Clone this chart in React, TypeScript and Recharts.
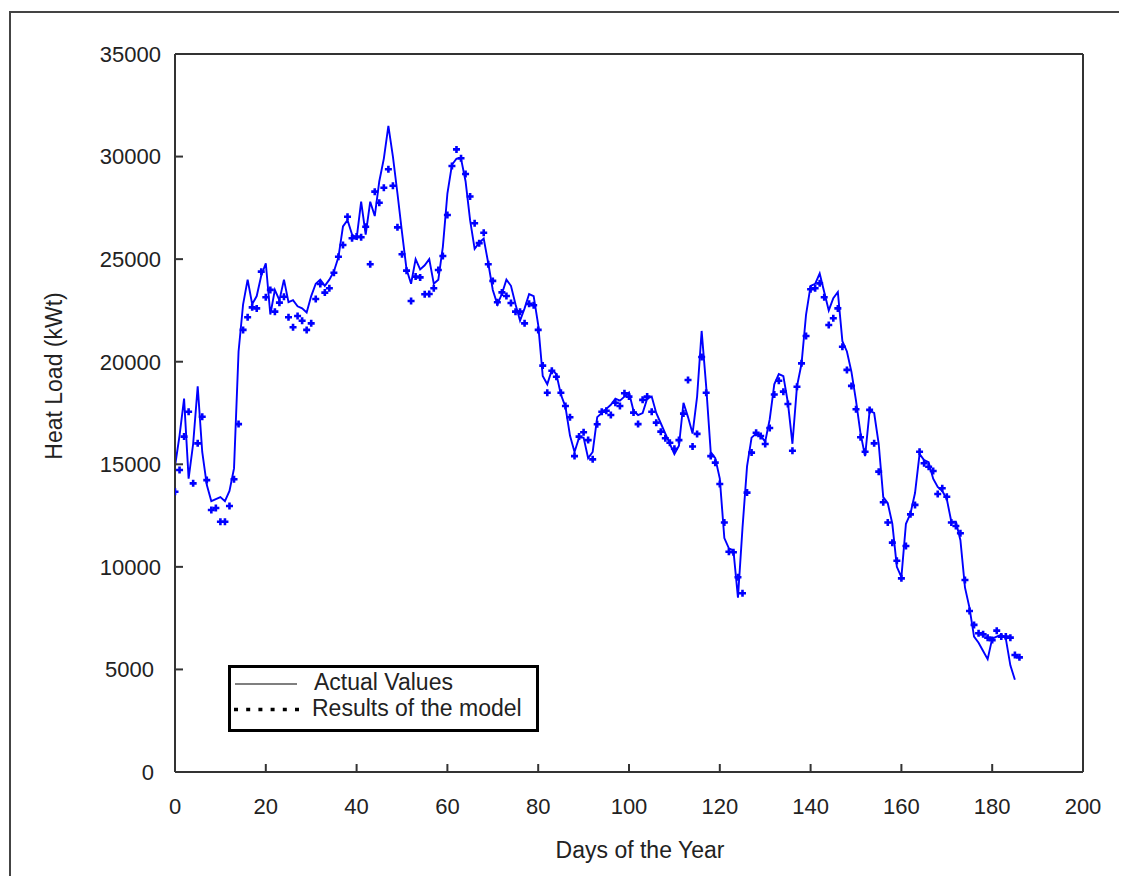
import React from 'react';
import { LineChart, Line, XAxis, YAxis, Legend } from 'recharts';

// Heat load per day (kWt)
const actualValues = [
  14900, 16400, 18200, 14300, 16000, 18800, 15600, 14000, 13200, 13300,
  13400, 13200, 13700, 14800, 20500, 22800, 24000, 22800, 23200, 24200,
  24800, 22300, 23500, 23000, 24000, 22900, 23000, 22700, 22600, 22400,
  23200, 23800, 24000, 23700, 24000, 24400, 25100, 26600, 26900, 26200,
  26000, 27800, 26200, 27800, 27100, 28800, 29900, 31500, 30000, 28200,
  26300, 24500, 23800, 25000, 24500, 24700, 25000, 23800, 24000, 25600,
  28200, 29600, 29900, 29900, 28800, 26900, 25500, 25800, 26000, 24800,
  23500, 22800, 23300, 24000, 23700, 22800, 22000, 22600, 23300, 23200,
  21800, 19300, 18900, 19600, 19400, 18400, 17800, 16400, 15600, 16300,
  16300, 15300, 15600, 17300, 17500, 17700, 17900, 18200, 18100, 18300,
  18500, 17600, 17400, 17500, 18200, 18300, 17500, 17000, 16500, 16000,
  15500, 15900, 18000, 17300, 16500, 18300, 21500, 18800, 15600, 15300,
  14300, 11400, 10900, 10800, 8500, 11900, 14900, 16300, 16500, 16400,
  16100, 17200, 18900, 19400, 19300, 18000, 16000, 18800, 19900, 22300,
  23700, 23800, 24300, 23400, 22500, 23100, 23400, 21000, 20500, 19500,
  18100, 16500, 15400, 17600, 17500, 16000, 13400, 13100, 12100, 10000,
  9500, 12100, 12600, 13600, 15500, 15200, 15100, 14300, 13900, 13700,
  13300, 12200, 12200, 11300, 9000, 8000, 6600, 6300, 5900, 5500,
  6500, 6600, 6700, 6500, 5200, 4500,
];

const modelValues = [
  13660, 14720, 16350, 17560, 14070, 16020, 17320, 14230, 12770, 12870,
  12200, 12200, 12970, 14270, 16960, 21550, 22170, 22650, 22600, 24390,
  23140, 23500, 22440, 22880, 23170, 22170, 21680, 22230, 22000, 21550,
  21870, 23060, 23790, 23370, 23580, 24340, 25120, 25690, 27070, 26020,
  26100, 26070, 26580, 24750, 28290, 27750, 28480, 29380, 28580, 26550,
  25240, 24440, 22960, 24150, 24110, 23290, 23300, 23580, 24470, 25150,
  27150, 29540, 30350, 29920, 29150, 28050, 26750, 25780, 26290, 24750,
  23940, 22900, 23380, 23200, 22860, 22440, 22440, 21870, 22820, 22750,
  21550, 19810, 18490, 19560, 19270, 18490, 17840, 17290, 15400, 16350,
  16560, 16180, 15240, 16950, 17560, 17610, 17400, 18000, 17840, 18460,
  18300, 17520, 16960, 18140, 18300, 17560, 17030, 16590, 16270, 16050,
  15760, 16180, 17470, 19110, 15870, 16480, 20230, 18490, 15400, 15080,
  14040, 12160, 10740, 10710, 9490, 8710, 13620, 15570, 16540, 16380,
  15990, 16770, 18400, 19070, 18540, 17940, 15660, 18780, 19920, 21250,
  23530, 23580, 23820, 23140, 21790, 22120, 22600, 20730, 19600, 18820,
  17680, 16320, 15610, 17650, 16020, 14640, 13150, 12160, 11180, 10300,
  9440, 11020, 12560, 13020, 15610, 15050, 14880, 14670, 13550, 13830,
  13420, 12160, 11990, 11640, 9360, 7850, 7170, 6760, 6710, 6550,
  6430, 6890, 6600, 6600, 6550, 5700, 5590,
];

const xTicks = [0, 20, 40, 60, 80, 100, 120, 140, 160, 180, 200];
const yTicks = [0, 5000, 10000, 15000, 20000, 25000, 30000, 35000];

const data = modelValues.map((m, i) => ({
  day: i,
  model: m,
  actual: i < actualValues.length ? actualValues[i] : null,
}));

const FONT = "'Liberation Sans', Arial, sans-serif";
const TEXT = '#222';
const AXIS = '#333';
const BLUE = '#0000ff';

const PlusDot = (props: any) => {
  const { cx, cy, index } = props;
  if (cx == null || cy == null || isNaN(cx) || isNaN(cy)) return <g key={`m${index}`} />;
  const a = 3.5;
  const t = 1.3;
  return (
    <path
      key={`m${index}`}
      d={`M${cx - a},${cy - t}h${2 * a}v${2 * t}h${-2 * a}zM${cx - t},${cy - a}h${2 * t}v${2 * a}h${-2 * t}z`}
      fill={BLUE}
    />
  );
};

const YTick = (props: any) => {
  const { x, y, payload } = props;
  const s = String(payload.value);
  return (
    <text
      x={x + (s.length >= 5 ? 7 : 0)}
      y={y}
      dy="0.355em"
      textAnchor="end"
      fill={TEXT}
      fontSize={22}
      fontFamily={FONT}
    >
      {s}
    </text>
  );
};

const XLabel = (props: any) => {
  const { viewBox } = props;
  const { x, y, width, height } = viewBox;
  return (
    <text x={x + width / 2 + 11} y={y + height + 26} textAnchor="middle" fill={TEXT} fontSize={23} fontFamily={FONT}>
      Days of the Year
    </text>
  );
};

const YLabel = (props: any) => {
  const { viewBox } = props;
  const { x, y, width, height } = viewBox;
  const cx = x + width - 121;
  const cy = y + height / 2 - 37;
  return (
    <text
      x={cx}
      y={cy}
      transform={`rotate(-90, ${cx}, ${cy})`}
      textAnchor="middle"
      dominantBaseline="central"
      fill={TEXT}
      fontSize={23}
      fontFamily={FONT}
    >
      Heat Load (kWt)
    </text>
  );
};

const LegendBox = () => (
  <svg width={311} height={67} style={{ display: 'block' }}>
    <rect x={1.5} y={1.5} width={308} height={64} fill="#fff" stroke="#000" strokeWidth={3} />
    <line x1={7} y1={19} x2={69} y2={19} stroke="#000" strokeWidth={1.2} />
    <line x1={6} y1={44.5} x2={74} y2={44.5} stroke="#000" strokeWidth={3.5} strokeDasharray="4 8.2" />
    <text x={86} y={25} fill={TEXT} fontSize={23} fontFamily={FONT}>Actual Values</text>
    <text x={84} y={51} fill={TEXT} fontSize={23} fontFamily={FONT}>Results of the model</text>
  </svg>
);

export default function App() {
  const W = 1111;
  const H = 868;
  return (
    <div style={{ position: 'relative', width: W, height: H, background: '#fff' }}>
      <div
        style={{
          position: 'absolute',
          left: 1,
          top: 3,
          width: W + 7,
          height: H - 3,
          borderLeft: '2px solid #444',
          borderTop: '2px solid #444',
          boxSizing: 'border-box',
        }}
      />
      <LineChart
        width={W}
        height={H}
        data={data}
        margin={{ top: 36, right: 26, bottom: 44, left: 87 }}
        style={{ position: 'absolute', left: 0, top: 0 }}
      >
        <XAxis
          dataKey="day"
          type="number"
          domain={[0, 200]}
          ticks={xTicks}
          interval={0}
          height={60}
          tickSize={-8}
          tickMargin={34}
          axisLine={{ stroke: AXIS, strokeWidth: 2 }}
          tickLine={{ stroke: AXIS, strokeWidth: 2 }}
          tick={{ fill: TEXT, fontSize: 22, fontFamily: FONT }}
          label={<XLabel />}
          allowDataOverflow
        />
        <XAxis
          xAxisId="top"
          orientation="top"
          dataKey="day"
          type="number"
          domain={[0, 200]}
          ticks={xTicks}
          interval={0}
          height={10}
          tickSize={-8}
          axisLine={{ stroke: AXIS, strokeWidth: 2 }}
          tickLine={{ stroke: AXIS, strokeWidth: 2 }}
          tick={false}
          allowDataOverflow
        />
        <YAxis
          type="number"
          domain={[0, 35000]}
          ticks={yTicks}
          interval={0}
          width={80}
          tickSize={-8}
          tickMargin={29}
          axisLine={{ stroke: AXIS, strokeWidth: 2 }}
          tickLine={{ stroke: AXIS, strokeWidth: 2 }}
          tick={<YTick />}
          label={<YLabel />}
          allowDataOverflow
        />
        <YAxis
          yAxisId="right"
          orientation="right"
          type="number"
          domain={[0, 35000]}
          ticks={yTicks}
          interval={0}
          width={10}
          tickSize={-8}
          axisLine={{ stroke: AXIS, strokeWidth: 2 }}
          tickLine={{ stroke: AXIS, strokeWidth: 2 }}
          tick={false}
          allowDataOverflow
        />
        <Legend
          layout="horizontal"
          align="center"
          verticalAlign="middle"
          content={<LegendBox />}
          wrapperStyle={{ position: 'absolute', left: 220, top: 657, width: 311, height: 67 }}
        />
        <Line
          dataKey="actual"
          type="linear"
          stroke={BLUE}
          strokeWidth={1.9}
          dot={false}
          activeDot={false}
          isAnimationActive={false}
          connectNulls={false}
        />
        <Line
          dataKey="model"
          type="linear"
          stroke="none"
          dot={<PlusDot />}
          activeDot={false}
          isAnimationActive={false}
        />
      </LineChart>
    </div>
  );
}
